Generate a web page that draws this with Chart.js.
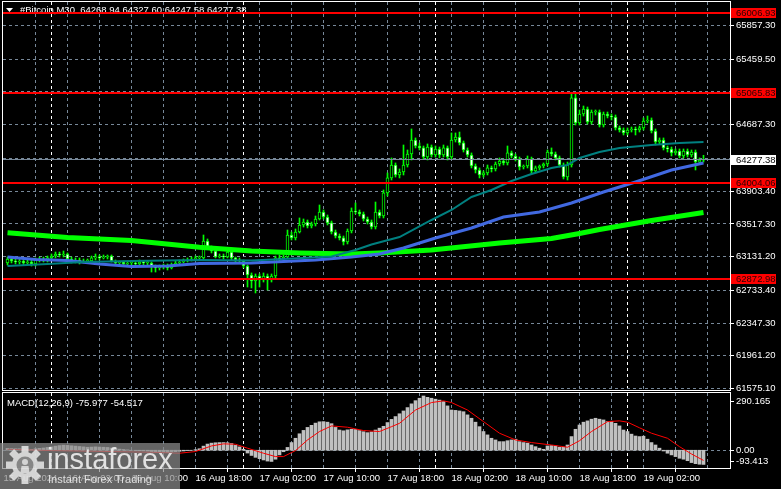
<!DOCTYPE html>
<html>
<head>
<meta charset="utf-8">
<script src="https://cdn.jsdelivr.net/npm/chart.js@4.4.1/dist/chart.umd.min.js"></script>
<style>
  html, body { margin: 0; padding: 0; background: #000; width: 781px; height: 489px; overflow: hidden; }
  #wrap { position: relative; width: 781px; height: 489px; }
  #main { position: absolute; left: 0; top: 0; width: 781px; height: 392px; }
  #macd { position: absolute; left: 0; top: 390px; width: 781px; height: 99px; }
  .wm { position: absolute; left: 0; top: 443px; width: 180px; height: 46px; background: rgba(140,140,140,0.72); pointer-events: none; }
  .wm svg { position: absolute; left: 5px; top: 2px; opacity: 0.85; }
  .wm-name { position: absolute; left: 47px; top: 2px; font: 29px/29px "Liberation Sans", Arial, sans-serif; color: rgba(238,238,238,0.9); }
  .wm-tag { position: absolute; left: 48px; top: 31px; font: 11px/11px "Liberation Sans", Arial, sans-serif; color: rgba(235,235,235,0.9); }
</style>
</head>
<body>
<div id="wrap">
  <canvas id="main" width="781" height="392"></canvas>
  <canvas id="macd" width="781" height="99"></canvas>
  <div class="wm">
    <svg width="40" height="40" viewBox="-20 -20 40 40">
      <g fill="#e8e8e8">
        <circle r="13"></circle>
        <rect x="-3.5" y="-19" width="7" height="8"></rect>
        <rect x="-3.5" y="-19" width="7" height="8" transform="rotate(45)"></rect>
        <rect x="-3.5" y="-19" width="7" height="8" transform="rotate(90)"></rect>
        <rect x="-3.5" y="-19" width="7" height="8" transform="rotate(135)"></rect>
        <rect x="-3.5" y="-19" width="7" height="8" transform="rotate(180)"></rect>
        <rect x="-3.5" y="-19" width="7" height="8" transform="rotate(225)"></rect>
        <rect x="-3.5" y="-19" width="7" height="8" transform="rotate(270)"></rect>
        <rect x="-3.5" y="-19" width="7" height="8" transform="rotate(315)"></rect>
      </g>
      <circle r="8.5" fill="#8c8c8c"></circle>
      <circle cy="-3" r="3" fill="#e8e8e8"></circle>
      <path d="M-3.5 1 L3.5 1 L4.5 8 L-4.5 8 Z" fill="#e8e8e8"></path>
    </svg>
    <div class="wm-name">instaforex</div>
    <div class="wm-tag">Instant Forex Trading</div>
  </div>
</div>
<script>
// M30 bars, index = half-hours from 16 Aug 00:00
const firstBar = -11;

const opens = [
  63057, 63104, 63080, 63068, 63080, 63057, 63068, 63045, 63092, 63104,
  63092, 63116, 63139, 63163, 63151, 63163, 63104, 63080, 63092, 63068,
  63080, 63080, 63116, 63127, 63116, 63127, 63139, 63080, 63057, 63068,
  63045, 63057, 63057, 63045, 63068, 63057, 63057, 63009, 62998, 63009,
  63021, 62998, 63033, 63057, 63068, 63080, 63092, 63104, 63116, 63116,
  63316, 63245, 63198, 63127, 63139, 63127, 63186, 63116, 63092, 63080,
  63021, 62915, 62844, 62903, 62856, 62903, 62856, 62903, 63116, 63104,
  63127, 63387, 63352, 63422, 63505, 63540, 63493, 63517, 63576, 63658,
  63599, 63529, 63422, 63375, 63352, 63304, 63434, 63670, 63658, 63635,
  63576, 63540, 63481, 63658, 63611, 63883, 64060, 64213, 64095, 64130,
  64213, 64343, 64508, 64437, 64414, 64307, 64425, 64331, 64402, 64331,
  64414, 64307, 64508, 64543, 64473, 64390, 64331, 64201, 64154, 64095,
  64119, 64178, 64166, 64225, 64260, 64237, 64355, 64319, 64284, 64189,
  64201, 64284, 64142, 64178, 64201, 64225, 64366, 64343, 64296, 64213,
  64071, 64213, 65004, 64709, 64815, 64874, 64720, 64838, 64838, 64685,
  64815, 64791, 64779, 64650, 64626, 64591, 64626, 64638, 64626, 64650,
  64732, 64744, 64614, 64484, 64508, 64414, 64402, 64355, 64378, 64319,
  64378, 64331, 64366, 64248, 64268.94
];
const highs = [
  63127, 63127, 63104, 63104, 63104, 63092, 63092, 63116, 63127, 63127,
  63139, 63163, 63186, 63186, 63198, 63175, 63127, 63116, 63116, 63104,
  63104, 63139, 63163, 63151, 63151, 63151, 63151, 63092, 63080, 63080,
  63080, 63080, 63080, 63092, 63080, 63080, 63068, 63033, 63033, 63045,
  63045, 63057, 63080, 63092, 63104, 63116, 63127, 63139, 63139, 63387,
  63340, 63257, 63222, 63163, 63163, 63210, 63210, 63127, 63116, 63092,
  63033, 62939, 62927, 62927, 62939, 62927, 62927, 63139, 63151, 63151,
  63446, 63422, 63458, 63588, 63576, 63564, 63540, 63611, 63741, 63682,
  63623, 63552, 63446, 63399, 63375, 63458, 63706, 63765, 63682, 63658,
  63599, 63564, 63776, 63682, 63918, 64119, 64296, 64237, 64166, 64449,
  64390, 64638, 64532, 64473, 64437, 64461, 64449, 64437, 64425, 64449,
  64437, 64591, 64591, 64602, 64496, 64414, 64355, 64225, 64178, 64142,
  64213, 64201, 64248, 64296, 64284, 64437, 64378, 64343, 64307, 64213,
  64319, 64307, 64201, 64213, 64237, 64390, 64414, 64366, 64319, 64237,
  64248, 65063, 65063, 64862, 64909, 64897, 64862, 64862, 64862, 64838,
  64838, 64815, 64803, 64673, 64650, 64650, 64661, 64661, 64673, 64768,
  64791, 64768, 64638, 64532, 64532, 64437, 64425, 64402, 64402, 64402,
  64402, 64390, 64390, 64296, 64327.60
];
const lows = [
  63033, 63057, 63045, 63045, 63033, 63033, 63021, 63021, 63068, 63068,
  63068, 63092, 63116, 63127, 63127, 63080, 63057, 63057, 63045, 63057,
  63057, 63068, 63092, 63092, 63104, 63104, 63068, 63033, 63033, 63021,
  63033, 63033, 63021, 63033, 63033, 63033, 62950, 62950, 62974, 62986,
  62974, 62986, 63021, 63045, 63057, 63068, 63080, 63092, 63092, 63104,
  63222, 63175, 63116, 63116, 63104, 63116, 63092, 63068, 63057, 62998,
  62773, 62762, 62703, 62773, 62832, 62738, 62832, 62868, 63080, 63080,
  63116, 63328, 63328, 63411, 63481, 63470, 63470, 63493, 63564, 63576,
  63505, 63399, 63352, 63328, 63269, 63281, 63411, 63635, 63611, 63552,
  63517, 63458, 63458, 63588, 63588, 63847, 64036, 64071, 64060, 64095,
  64189, 64272, 64414, 64390, 64284, 64272, 64307, 64307, 64296, 64307,
  64272, 64284, 64484, 64449, 64366, 64307, 64178, 64119, 64060, 64071,
  64095, 64130, 64142, 64201, 64213, 64213, 64296, 64260, 64154, 64166,
  64178, 64107, 64119, 64154, 64178, 64201, 64319, 64272, 64189, 64048,
  64036, 64189, 64685, 64685, 64791, 64697, 64697, 64803, 64661, 64661,
  64768, 64744, 64626, 64602, 64567, 64567, 64602, 64567, 64602, 64626,
  64709, 64591, 64449, 64461, 64390, 64366, 64319, 64331, 64296, 64296,
  64307, 64307, 64154, 64225, 64247.58
];
const closes = [
  63104, 63080, 63068, 63080, 63057, 63068, 63045, 63092, 63104, 63092,
  63116, 63139, 63163, 63151, 63163, 63104, 63080, 63092, 63068, 63080,
  63080, 63116, 63127, 63116, 63127, 63139, 63080, 63057, 63068, 63045,
  63057, 63057, 63045, 63068, 63057, 63057, 63009, 62998, 63009, 63021,
  62998, 63033, 63057, 63068, 63080, 63092, 63104, 63116, 63116, 63316,
  63245, 63198, 63127, 63139, 63127, 63186, 63116, 63092, 63080, 63021,
  62915, 62844, 62903, 62856, 62903, 62856, 62903, 63116, 63104, 63127,
  63387, 63352, 63422, 63505, 63540, 63493, 63517, 63576, 63658, 63599,
  63529, 63422, 63375, 63352, 63304, 63434, 63670, 63658, 63635, 63576,
  63540, 63481, 63658, 63611, 63883, 64060, 64213, 64095, 64130, 64213,
  64343, 64508, 64437, 64414, 64307, 64425, 64331, 64402, 64331, 64414,
  64307, 64508, 64543, 64473, 64390, 64331, 64201, 64154, 64095, 64119,
  64178, 64166, 64225, 64260, 64237, 64355, 64319, 64284, 64189, 64201,
  64284, 64142, 64178, 64201, 64225, 64366, 64343, 64296, 64213, 64071,
  64213, 65004, 64709, 64815, 64874, 64720, 64838, 64838, 64685, 64815,
  64791, 64779, 64650, 64626, 64591, 64626, 64638, 64626, 64650, 64732,
  64744, 64614, 64484, 64508, 64414, 64402, 64355, 64378, 64319, 64378,
  64331, 64366, 64248, 64269, 64277.38
];

// moving averages read at a few bars
const limeBars = [-11, 4, 20, 37, 50, 62, 75, 82, 95, 112, 125, 132, 137, 150, 163];
const limeVals = [63414, 63357, 63322, 63242, 63198, 63175, 63163, 63175, 63210, 63293, 63346, 63405, 63452, 63558, 63652];
const blueBars = [-11, -4, 4, 12, 20, 29, 37, 50, 58, 66, 75, 82, 88, 96, 105, 113, 122, 130, 138, 146, 155, 163];
const blueVals = [63127, 63098, 63086, 63045, 63015, 63021, 63051, 63057, 63074, 63092, 63127, 63163, 63234, 63352, 63470, 63599, 63658, 63765, 63894, 64012, 64154, 64237];
const tealBars = [-11, -1, 8, 20, 37, 50, 58, 70, 76, 80, 87, 95, 100, 105, 110, 115, 120, 125, 129, 132, 137, 142, 150, 157, 163];
const tealVals = [63021, 63045, 63068, 63080, 63092, 63086, 63104, 63133, 63210, 63275, 63363, 63564, 63682, 63835, 63918, 64024, 64107, 64178, 64213, 64296, 64366, 64414, 64449, 64473, 64484];

// MACD(12,26,9)
const macdHist = [
  10, 9, 8, 8, 7, 6, 5, 8, 10, 12, 15,
  18, 22, 25, 27, 26, 24, 22, 20, 18, 16, 17,
  18, 17, 16, 15, 12, 9, 6, 4, 2, 0,
  -2, -3, -4, -5, -8, -11, -12, -12, -13, -11, -8, -6,
  -4, -2, 0, 3,
  8, 22, 33, 38, 40, 41, 41, 40, 36, 26, 18, 5, -15, -28, -38, -45, -52, -58, -60, -48, -25, -8, 15,
  41, 64, 88, 106, 122, 133, 145, 152, 153, 150, 142, 122, 108, 104, 109, 112, 111, 105, 99, 94, 98, 108, 118, 128, 148, 165, 180, 195, 210, 228, 248, 265,
  278, 290, 283, 278, 273, 268, 260, 237, 215, 213, 210, 206, 189, 171, 150, 126, 100, 82, 64, 55, 46, 46, 51, 55, 59, 46, 41, 38, 28, 19, 11, 5, 23, 25, 23, 16, 16, 28,
  73, 112, 135, 150, 157, 166, 171, 166, 162, 153, 155, 144, 130, 108, 100, 86, 76, 73, 75, 59, 41, 28, 11, -4, -16, -25, -34, -43, -48, -56, -66, -72, -75, -75.977
];
const signalBars = [-11, 0, 15, 25, 32, 36, 40, 43, 46, 49, 53, 56, 58, 61, 64, 67, 70, 74, 78, 82, 85, 87, 91, 95, 98, 100, 104, 108, 112, 116, 120, 125, 129, 132, 135, 139, 142, 144, 147, 150, 154, 157, 160, 163];
const signalVals = [5, -2, -7, -11, -16, -7, 23, 34, 32, 11, -16, -34, -34, -2, 55, 100, 130, 123, 105, 100, 126, 144, 215, 255, 264, 255, 215, 153, 91, 55, 41, 28, 16, 51, 100, 153, 157, 150, 120, 91, 64, 19, -20, -54.517];

// axes
const priceGrid = [65857.30, 65459.50, 65083.00, 64687.30, 64295.00, 63903.40, 63517.30, 63131.20, 62733.40, 62347.30, 61961.20, 61575.10];
const priceLabels = ['65857.30', '65459.50', '', '64687.30', '', '63903.40', '63517.30', '63131.20', '62733.40', '62347.30', '61961.20', '61575.10'];
const levelPrices = [66006.93, 65065.83, 64004.06, 62872.98];
const lastPrice = 64277.38;
const titleText = '#Bitcoin,M30  64268.94 64327.60 64247.58 64277.38';
const timeTicks = [-12, 4, 20, 36, 52, 68, 84, 100, 116, 132, 148];
const timeLabels = ['15 Aug 2024', '16 Aug 02:00', '16 Aug 10:00', '16 Aug 18:00', '17 Aug 02:00', '17 Aug 10:00',
  '17 Aug 18:00', '18 Aug 02:00', '18 Aug 10:00', '18 Aug 18:00', '19 Aug 02:00'];
const daySeps = [0, 48, 96, 144];
const macdAxisVals = [290.165, 0, -93.413];
const macdAxisLabels = ['290.165', '0.00', '-93.413'];
const macdTitle = 'MACD(12,26,9) -75.977 -54.517';

const X_MIN = -12.125, X_MAX = 169.625;
const P_MIN = 61558, P_MAX = 66136;
const M_MIN = -95, M_MAX = 306;
const GRID = '#778899';
const FONT = '9.5px "Liberation Sans", Arial, sans-serif';

Chart.defaults.font.family = '"Liberation Sans", Arial, sans-serif';
Chart.defaults.font.size = 9.5;
Chart.defaults.color = '#ffffff';

const barIdx = opens.map((_, i) => firstBar + i);
const toPts = (xs, ys) => xs.map((n, i) => ({ x: n, y: ys[i] }));

function vline(ctx, x, top, bottom) { ctx.beginPath(); ctx.moveTo(x, top); ctx.lineTo(x, bottom); ctx.stroke(); }
function hline(ctx, y, left, right) { ctx.beginPath(); ctx.moveTo(left, y); ctx.lineTo(right, y); ctx.stroke(); }
const crisp = (v) => Math.round(v - 0.5) + 0.5;
// keep Chart.js from reserving room for half tick labels at the ends
function noPad(s) { s.paddingTop = 0; s.paddingBottom = 0; s.paddingLeft = 0; s.paddingRight = 0; }

function drawTimeGrid(chart) {
  const { ctx, chartArea: a, scales: { x } } = chart;
  ctx.save();
  ctx.lineWidth = 1;
  ctx.setLineDash([3, 3]);
  ctx.strokeStyle = GRID;
  for (let n = -4; n <= X_MAX; n += 8) vline(ctx, crisp(x.getPixelForValue(n)), a.top, a.bottom);
  ctx.strokeStyle = '#ffffff';
  daySeps.forEach(n => vline(ctx, crisp(x.getPixelForValue(n)), a.top, a.bottom));
  ctx.restore();
}

function drawFrame(chart) {
  const { ctx, chartArea: a } = chart;
  ctx.save();
  ctx.strokeStyle = '#ffffff';
  ctx.lineWidth = 1;
  ctx.strokeRect(a.left - 0.5, a.top - 0.5, a.right - a.left + 1, a.bottom - a.top + 1);
  ctx.restore();
}

function priceBox(ctx, a, py, text, bg, fg) {
  ctx.fillStyle = bg;
  ctx.fillRect(a.right + 1, Math.round(py) - 5, 45, 10);
  ctx.fillStyle = fg;
  ctx.font = FONT;
  ctx.textBaseline = 'middle';
  ctx.textAlign = 'left';
  ctx.fillText(text, a.right + 6, py + 0.5);
}

const mainDecor = {
  id: 'mainDecor',
  beforeDatasetsDraw(chart) {
    const { ctx, chartArea: a, scales: { y } } = chart;
    drawTimeGrid(chart);
    ctx.save();
    ctx.lineWidth = 1;
    ctx.setLineDash([3, 3]);
    ctx.strokeStyle = GRID;
    priceGrid.forEach(v => hline(ctx, crisp(y.getPixelForValue(v)), a.left, a.right));
    ctx.setLineDash([]);
    // title
    ctx.fillStyle = '#ffffff';
    ctx.beginPath();
    ctx.moveTo(a.left + 3, 8); ctx.lineTo(a.left + 10, 8); ctx.lineTo(a.left + 6.5, 12); ctx.closePath();
    ctx.fill();
    ctx.font = FONT;
    ctx.textBaseline = 'middle';
    ctx.fillText(titleText, a.left + 17, 10);
    ctx.restore();
  },
  afterDatasetsDraw(chart) {
    const { ctx, chartArea: a, scales: { y } } = chart;
    ctx.save();
    ctx.strokeStyle = GRID;
    ctx.lineWidth = 1;
    hline(ctx, crisp(y.getPixelForValue(lastPrice)), a.left, a.right);
    ctx.fillStyle = '#ff0000';
    levelPrices.forEach(p => {
      const py = Math.round(y.getPixelForValue(p));
      ctx.fillRect(a.left, py - 1, a.right - a.left, 2);
    });
    ctx.restore();
  },
  afterDraw(chart) {
    const { ctx, chartArea: a, scales: { y } } = chart;
    drawFrame(chart);
    ctx.save();
    levelPrices.forEach(p => priceBox(ctx, a, y.getPixelForValue(p), p.toFixed(2), '#ff0000', '#2a0000'));
    priceBox(ctx, a, y.getPixelForValue(lastPrice), lastPrice.toFixed(2), '#ffffff', '#000000');
    ctx.restore();
  }
};

const macdDecor = {
  id: 'macdDecor',
  beforeDatasetsDraw(chart) {
    const { ctx, chartArea: a, scales: { y } } = chart;
    drawTimeGrid(chart);
    ctx.save();
    ctx.lineWidth = 1;
    ctx.setLineDash([3, 3]);
    ctx.strokeStyle = GRID;
    hline(ctx, crisp(y.getPixelForValue(0)), a.left, a.right);
    ctx.restore();
  },
  afterDraw(chart) {
    const { ctx, chartArea: a, scales: { y } } = chart;
    drawFrame(chart);
    ctx.save();
    ctx.font = FONT;
    ctx.fillStyle = '#ffffff';
    ctx.strokeStyle = '#ffffff';
    ctx.textBaseline = 'middle';
    ctx.fillText(macdTitle, a.left + 4, a.top + 10.5);
    macdAxisVals.forEach((v, i) => {
      const py = Math.min(Math.max(y.getPixelForValue(v), a.top + 8), a.bottom - 7);
      hline(ctx, crisp(py), a.right, a.right + 4);
      ctx.fillText(macdAxisLabels[i], a.right + 6, py + 0.5);
    });
    ctx.restore();
  }
};

new Chart(document.getElementById('main'), {
  type: 'bar',
  data: {
    datasets: [
      { type: 'line', data: toPts(tealBars, tealVals), borderColor: '#008080', borderWidth: 2, pointRadius: 0, order: 0 },
      { type: 'line', data: toPts(blueBars, blueVals), borderColor: '#4169e1', borderWidth: 3, pointRadius: 0, order: 1 },
      { type: 'line', data: toPts(limeBars, limeVals), borderColor: '#00ff00', borderWidth: 5, pointRadius: 0, order: 2 },
      {
        type: 'bar',
        data: barIdx.map((n, i) => ({ x: n, y: [opens[i], closes[i]] })),
        backgroundColor: barIdx.map((_, i) => closes[i] >= opens[i] ? '#000000' : '#ffffff'),
        borderColor: '#00ff00', borderWidth: 1, borderSkipped: false,
        barThickness: 3, minBarLength: 1, grouped: false, order: 3
      },
      {
        type: 'bar',
        data: barIdx.map((n, i) => ({ x: n, y: [lows[i], highs[i]] })),
        backgroundColor: '#00ff00', barThickness: 1, grouped: false, order: 4
      }
    ]
  },
  options: {
    responsive: false,
    animation: false,
    devicePixelRatio: 1,
    layout: { padding: { left: 3, top: 2, right: 0, bottom: 2 } },
    plugins: { legend: { display: false }, tooltip: { enabled: false } },
    scales: {
      x: { type: 'linear', min: X_MIN, max: X_MAX, display: false, offset: false },
      y: {
        type: 'linear', position: 'right', min: P_MIN, max: P_MAX,
        afterFit(s) { s.width = 51; noPad(s); },
        afterBuildTicks(s) { s.ticks = priceGrid.map(v => ({ value: v })); },
        ticks: { autoSkip: false, padding: 2, color: '#ffffff', callback: (v) => priceLabels[priceGrid.indexOf(v)] || '' },
        grid: { drawOnChartArea: false, tickLength: 4, color: '#ffffff' },
        border: { display: false }
      }
    }
  },
  plugins: [mainDecor]
});

new Chart(document.getElementById('macd'), {
  type: 'bar',
  data: {
    datasets: [
      { type: 'line', data: toPts(signalBars, signalVals), borderColor: '#ff0000', borderWidth: 1, pointRadius: 0, order: 0 },
      {
        type: 'bar',
        data: barIdx.map((n, i) => ({ x: n, y: macdHist[i] })),
        backgroundColor: '#c0c0c0', barThickness: 3, grouped: false, order: 1
      }
    ]
  },
  options: {
    responsive: false,
    animation: false,
    devicePixelRatio: 1,
    layout: { padding: { left: 3, top: 3, right: 0, bottom: 0 } },
    plugins: { legend: { display: false }, tooltip: { enabled: false } },
    scales: {
      x: {
        type: 'linear', min: X_MIN, max: X_MAX, offset: false, position: 'bottom',
        afterFit(s) { s.height = 21; noPad(s); },
        afterBuildTicks(s) { s.ticks = timeTicks.map(v => ({ value: v })); },
        ticks: {
          autoSkip: false, maxRotation: 0, minRotation: 0, align: 'start', padding: 1, color: '#ffffff',
          callback: (v) => timeLabels[timeTicks.indexOf(v)] || ''
        },
        grid: { drawOnChartArea: false, tickLength: 4, color: '#ffffff' },
        border: { display: false }
      },
      y: {
        type: 'linear', position: 'right', min: M_MIN, max: M_MAX,
        afterFit(s) { s.width = 51; noPad(s); },
        ticks: { display: false },
        grid: { display: false },
        border: { display: false }
      }
    }
  },
  plugins: [macdDecor]
});
</script>
</body>
</html>
